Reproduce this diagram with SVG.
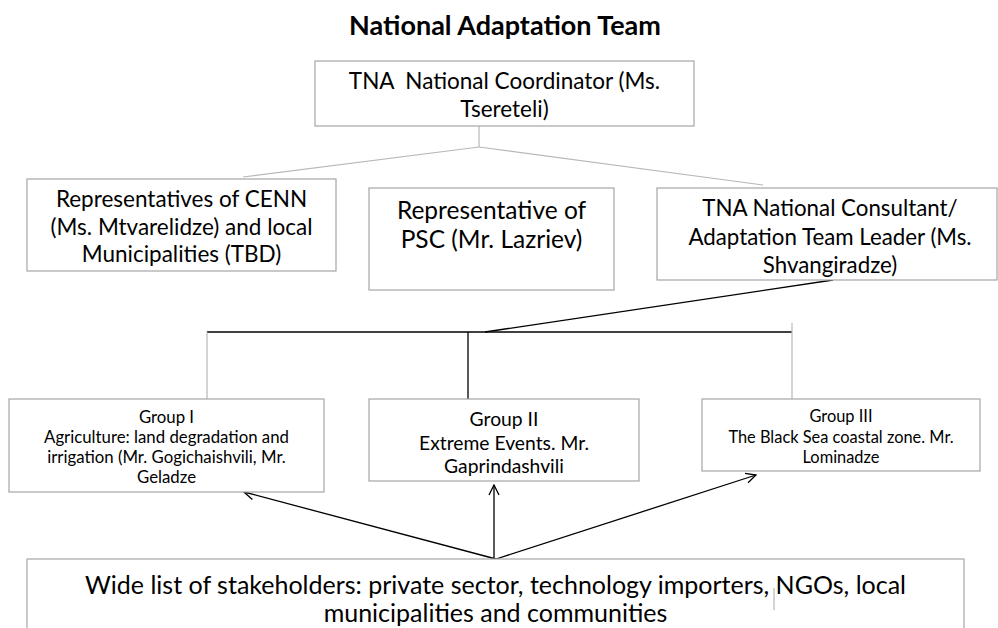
<svg xmlns="http://www.w3.org/2000/svg" width="998" height="628" viewBox="0 0 998 628">
<defs>
<style>
.box{fill:#fff;stroke:#a6a6a6;stroke-width:1.2}
.t{font-family:Lato,"Liberation Sans",sans-serif;fill:#000;text-anchor:middle;white-space:pre}
.gray{stroke:#b8b8b8;stroke-width:1.2;fill:none}
.blk{stroke:#000;stroke-width:1.3;fill:none}
</style>
<marker id="ah" markerWidth="12" markerHeight="12" refX="11" refY="6" orient="auto" markerUnits="userSpaceOnUse">
<path d="M1,1 L11,6 L1,11" fill="none" stroke="#000" stroke-width="1.3"/>
</marker>
</defs>
<rect width="998" height="628" fill="#fff"/>
<text class="t" x="505" y="35" font-size="27" font-weight="bold">National Adaptation Team</text>

<g id="connectors">
<line class="gray" x1="479" y1="126" x2="479" y2="147"/>
<line class="gray" x1="479" y1="147" x2="243" y2="177"/>
<line class="gray" x1="479" y1="147" x2="763" y2="185"/>
<line class="blk" x1="833" y1="280" x2="485" y2="332"/>
<line class="blk" x1="207" y1="332" x2="792" y2="332"/>
<line class="gray" x1="207" y1="332" x2="207" y2="399"/>
<line class="blk" x1="468" y1="332" x2="468" y2="399"/>
<line class="gray" x1="792" y1="323" x2="792" y2="399"/>
<line class="blk" x1="496" y1="559" x2="244" y2="492" marker-end="url(#ah)"/>
<line class="blk" x1="494" y1="559" x2="494" y2="485" marker-end="url(#ah)"/>
<line class="blk" x1="496" y1="559" x2="756" y2="475" marker-end="url(#ah)"/>
</g>

<g id="coordinator">
<rect class="box" x="315" y="61" width="379" height="65"/>
<text class="t" x="504.5" y="89" font-size="22.5">TNA  National Coordinator (Ms.</text>
<text class="t" x="504.5" y="117" font-size="22.5">Tsereteli)</text>
</g>

<g id="cenn">
<rect class="box" x="27" y="179" width="309" height="92"/>
<text class="t" x="181.5" y="207" font-size="22.5">Representatives of CENN</text>
<text class="t" x="181.5" y="235" font-size="22.5">(Ms. Mtvarelidze) and local</text>
<text class="t" x="181.5" y="262" font-size="22.5">Municipalities (TBD)</text>
</g>

<g id="psc">
<rect class="box" x="369" y="188" width="245" height="102"/>
<text class="t" x="491.5" y="219" font-size="24.5">Representative of</text>
<text class="t" x="491.5" y="248" font-size="24.5">PSC (Mr. Lazriev)</text>
</g>

<g id="consultant">
<rect class="box" x="657" y="188" width="340" height="92"/>
<text class="t" x="830" y="216" font-size="22.3">TNA National Consultant/</text>
<text class="t" x="830" y="245" font-size="22.3">Adaptation Team Leader (Ms.</text>
<text class="t" x="830" y="273" font-size="22.3">Shvangiradze)</text>
</g>

<g id="group1">
<rect class="box" x="9" y="399" width="315" height="93"/>
<text class="t" x="166.5" y="423" font-size="16.8">Group I</text>
<text class="t" x="166.5" y="443" font-size="16.8">Agriculture: land degradation and</text>
<text class="t" x="166.5" y="463" font-size="16.8">irrigation (Mr. Gogichaishvili, Mr.</text>
<text class="t" x="166.5" y="483" font-size="16.8">Geladze</text>
</g>

<g id="group2">
<rect class="box" x="369" y="399" width="270" height="82"/>
<text class="t" x="504" y="426" font-size="19.3">Group II</text>
<text class="t" x="504" y="450" font-size="19.3">Extreme Events. Mr.</text>
<text class="t" x="504" y="473" font-size="19.3">Gaprindashvili</text>
</g>

<g id="group3">
<rect class="box" x="702" y="399" width="278" height="72"/>
<text class="t" x="841" y="422" font-size="16.4">Group III</text>
<text class="t" x="841" y="443" font-size="16.4">The Black Sea coastal zone. Mr.</text>
<text class="t" x="841" y="463" font-size="16.4">Lominadze</text>
</g>

<g id="stakeholders">
<rect class="box" x="27" y="559" width="937" height="100"/>
<line class="gray" x1="774" y1="588" x2="774" y2="610"/>
<text class="t" x="495.5" y="594" font-size="25">Wide list of stakeholders: private sector, technology importers, NGOs, local</text>
<text class="t" x="495.5" y="622" font-size="25">municipalities and communities</text>
</g>
</svg>
